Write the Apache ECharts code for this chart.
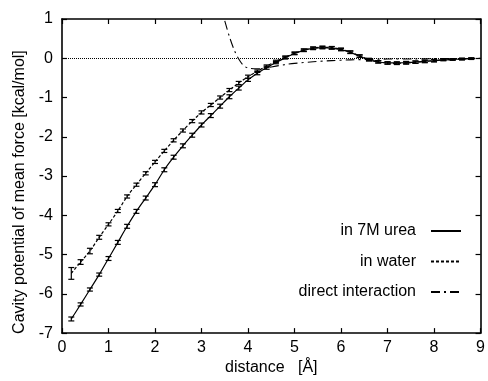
<!DOCTYPE html>
<html>
<head>
<meta charset="utf-8">
<script src="https://cdn.jsdelivr.net/npm/echarts@6/dist/echarts.min.js"></script>
<style>
  html, body { margin: 0; padding: 0; background: #fff; }
  #chart { width: 488px; height: 381px; }
</style>
</head>
<body>
<div id="chart"></div>
<script>
// distance grid of the sampled PMFs
var distance = [0.2, 0.4, 0.6, 0.8, 1.0, 1.2, 1.4, 1.6, 1.8, 2.0,
                2.2, 2.4, 2.6, 2.8, 3.0, 3.2, 3.4, 3.6, 3.8, 4.0,
                4.2, 4.4, 4.6, 4.8, 5.0, 5.2, 5.4, 5.6, 5.8, 6.0,
                6.2, 6.4, 6.6, 6.8, 7.0, 7.2, 7.4, 7.6, 7.8, 8.0,
                8.2, 8.4, 8.6, 8.8];
// in 7M urea
var ureaPmf = [-6.64, -6.27, -5.89, -5.51, -5.10, -4.69, -4.28, -3.90, -3.56, -3.22,
               -2.84, -2.52, -2.23, -1.96, -1.70, -1.46, -1.22, -0.98, -0.76, -0.55,
               -0.38, -0.24, -0.11, 0.01, 0.12, 0.20, 0.25, 0.27, 0.26, 0.22,
               0.15, 0.05, -0.04, -0.09, -0.12, -0.12, -0.11, -0.10, -0.08, -0.06,
               -0.04, -0.03, -0.02, -0.01];
var ureaErr = [0.05, 0.04, 0.04, 0.04, 0.05, 0.05, 0.05, 0.05, 0.05, 0.05,
               0.05, 0.05, 0.05, 0.05, 0.05, 0.05, 0.05, 0.05, 0.05, 0.04,
               0.04, 0.04, 0.03, 0.03, 0.03, 0.03, 0.03, 0.03, 0.03, 0.03,
               0.03, 0.03, 0.03, 0.03, 0.03, 0.03, 0.03, 0.03, 0.03, 0.03,
               0.02, 0.02, 0.02, 0.02];
// in water
var waterPmf = [-5.48, -5.19, -4.91, -4.56, -4.23, -3.89, -3.52, -3.22, -2.93, -2.64,
                -2.36, -2.09, -1.84, -1.60, -1.38, -1.19, -1.00, -0.81, -0.63, -0.47,
                -0.33, -0.20, -0.08, 0.03, 0.13, 0.21, 0.26, 0.28, 0.27, 0.23,
                0.16, 0.06, -0.03, -0.09, -0.12, -0.13, -0.12, -0.10, -0.08, -0.06,
                -0.04, -0.03, -0.02, -0.01];
var waterErr = [0.15, 0.06, 0.07, 0.05, 0.04, 0.04, 0.04, 0.04, 0.04, 0.04,
                0.04, 0.04, 0.04, 0.04, 0.04, 0.04, 0.04, 0.04, 0.04, 0.04,
                0.03, 0.03, 0.03, 0.03, 0.03, 0.03, 0.03, 0.03, 0.03, 0.03,
                0.03, 0.03, 0.03, 0.03, 0.03, 0.03, 0.03, 0.03, 0.03, 0.03,
                0.02, 0.02, 0.02, 0.02];
// direct interaction
var directX = [3.5, 3.6, 3.7, 3.8, 3.9, 4.0, 4.2, 4.4, 4.6, 4.8,
               5.0, 5.4, 5.8, 6.2, 6.6, 7.0, 7.5, 8.0, 8.5, 9.0];
var directPmf = [0.95, 0.55, 0.22, -0.02, -0.18, -0.25, -0.27, -0.24, -0.20, -0.16,
                 -0.13, -0.09, -0.06, -0.04, -0.03, -0.02, -0.02, -0.01, -0.01, 0];

var font = 'Liberation Sans, Arial, sans-serif';

function pairs(xs, ys) {
    return xs.map(function (x, i) { return [x, ys[i]]; });
}
function errData(xs, ys, es) {
    return xs.map(function (x, i) { return [x, ys[i], es[i]]; });
}
// vertical error bar with small caps
function renderErr(params, api) {
    var x = api.value(0), y = api.value(1), e = api.value(2);
    var hi = api.coord([x, y + e]);
    var lo = api.coord([x, y - e]);
    var w = 3;
    var st = { stroke: '#000', lineWidth: 1.2 };
    return {
        type: 'group',
        children: [
            { type: 'line', shape: { x1: hi[0], y1: hi[1], x2: lo[0], y2: lo[1] }, style: st },
            { type: 'line', shape: { x1: hi[0] - w, y1: hi[1], x2: hi[0] + w, y2: hi[1] }, style: st },
            { type: 'line', shape: { x1: lo[0] - w, y1: lo[1], x2: lo[0] + w, y2: lo[1] }, style: st }
        ]
    };
}

var axisLine = { show: true, onZero: false, lineStyle: { color: '#000', width: 1.6 } };
var axisTick = { show: true, inside: true, length: 5, lineStyle: { color: '#000', width: 1.2 } };

var chart = echarts.init(document.getElementById('chart'));
chart.setOption({
    animation: false,
    backgroundColor: '#fff',
    grid: { left: 62, right: 1, top: 19, bottom: 43 },
    legend: {
        orient: 'vertical',
        right: 21,
        bottom: 76,
        align: 'right',
        itemWidth: 30,
        itemHeight: 14,
        itemGap: 14.5,
        itemStyle: { opacity: 0 },
        textStyle: { fontFamily: font, fontSize: 16, color: '#000', padding: [0, 10, 0, 0] },
        data: ['in 7M urea', 'in water', 'direct interaction']
    },
    xAxis: [{
        type: 'value', position: 'bottom', min: 0, max: 9, interval: 1,
        axisLine: axisLine, axisTick: axisTick, splitLine: { show: false },
        axisLabel: { color: '#000', fontFamily: font, fontSize: 16, margin: 6 },
        name: 'distance   [Å]', nameLocation: 'middle', nameGap: 22,
        nameTextStyle: { color: '#000', fontFamily: font, fontSize: 16 }
    }, {
        type: 'value', position: 'top', min: 0, max: 9, interval: 1,
        axisLine: axisLine, axisTick: axisTick, axisLabel: { show: false }, splitLine: { show: false }
    }],
    yAxis: [{
        type: 'value', position: 'left', min: -7, max: 1, interval: 1,
        axisLine: axisLine, axisTick: axisTick, splitLine: { show: false },
        axisLabel: { color: '#000', fontFamily: font, fontSize: 16, margin: 9 },
        name: 'Cavity potential of mean force [kcal/mol]', nameLocation: 'middle', nameGap: 34,
        nameTextStyle: { color: '#000', fontFamily: font, fontSize: 16, padding: [0, 32, 0, 0] }
    }, {
        type: 'value', position: 'right', min: -7, max: 1, interval: 1,
        axisLine: axisLine, axisTick: axisTick, axisLabel: { show: false }, splitLine: { show: false }
    }],
    series: [{
        name: 'in 7M urea', type: 'line', data: pairs(distance, ureaPmf),
        symbol: 'none', smooth: 0.3,
        lineStyle: { color: '#000', width: 1.2, type: 'solid' },
        itemStyle: { color: '#000' },
        markLine: {
            silent: true, symbol: 'none', label: { show: false },
            lineStyle: { color: '#000', width: 1, type: [1, 1] },
            data: [{ yAxis: 0 }]
        }
    }, {
        name: 'in water', type: 'line', data: pairs(distance, waterPmf),
        symbol: 'none', smooth: 0.3,
        lineStyle: { color: '#000', width: 1.2, type: [3, 2] },
        itemStyle: { color: '#000' }
    }, {
        name: 'direct interaction', type: 'line', data: pairs(directX, directPmf),
        symbol: 'none', smooth: 0.3,
        lineStyle: { color: '#000', width: 1.1, type: [9, 4, 2, 4] },
        itemStyle: { color: '#000' }
    }, {
        name: 'urea err', type: 'custom', renderItem: renderErr,
        data: errData(distance, ureaPmf, ureaErr), z: 3
    }, {
        name: 'water err', type: 'custom', renderItem: renderErr,
        data: errData(distance, waterPmf, waterErr), z: 3
    }]
});
</script>
</body>
</html>
